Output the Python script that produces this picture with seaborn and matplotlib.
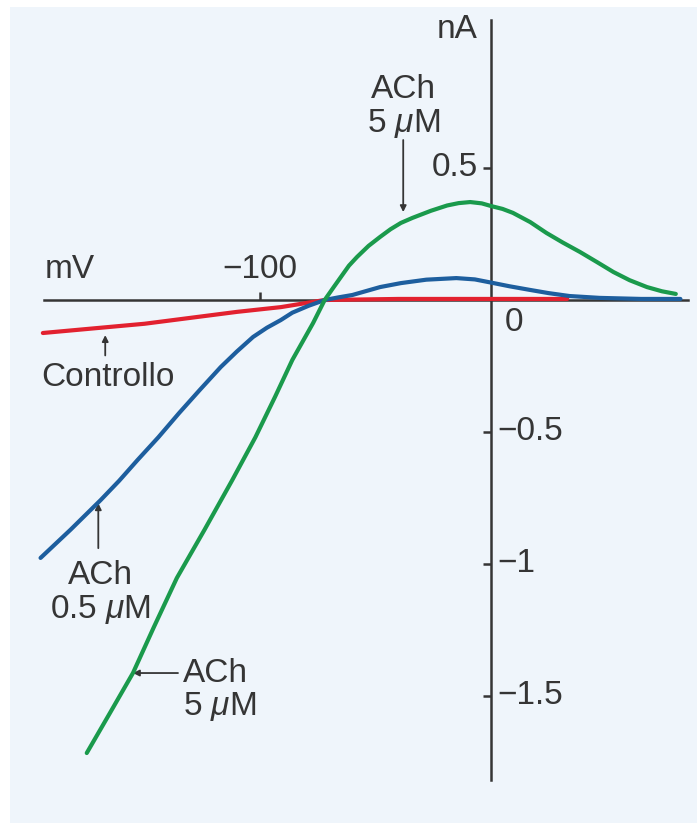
import matplotlib
matplotlib.use('Agg')
import matplotlib.pyplot as plt
from matplotlib.patches import Rectangle
import numpy as np
import seaborn as sns

sns.set_style("white")
plt.rcParams['font.family'] = ['Liberation Sans', 'DejaVu Sans']
plt.rcParams['mathtext.fontset'] = 'custom'
plt.rcParams['mathtext.it'] = 'Liberation Sans:italic'

# curve readings (mV, nA)
ctrl_mv = [-194, -150, -110, -91, -72, -40, 0, 33]
ctrl_na = [-0.125, -0.09, -0.045, -0.027, 0.0, 0.004, 0.004, 0.004]

ach05_mv = [-195, -182, -169, -161, -153, -144, -135, -126, -117, -110, -103, -97, -91, -86, -79, -72,
            -66, -60, -54, -48, -39, -28, -15, -7, 0, 8, 17, 25, 34, 47, 65, 82]
ach05_na = [-0.977, -0.87, -0.758, -0.685, -0.606, -0.52, -0.428, -0.34, -0.254, -0.195, -0.140, -0.105,
            -0.076, -0.048, -0.022, 0.0, 0.01, 0.019, 0.034, 0.049, 0.064, 0.077, 0.083, 0.078, 0.066,
            0.052, 0.038, 0.026, 0.015, 0.008, 0.004, 0.004]

ach5_mv = [-175, -165, -155, -146, -136, -124, -112, -102, -93.5, -86, -77, -72, -68, -65, -61.5, -58,
           -53, -48, -43.5, -39, -34, -26, -19, -14, -9, -4, 0, 5, 9.5, 17, 24, 31, 38.5, 46, 53, 60,
           67.5, 74, 80]
ach5_na = [-1.716, -1.565, -1.413, -1.24, -1.053, -0.87, -0.682, -0.52, -0.367, -0.227, -0.087, 0.0,
           0.05, 0.087, 0.13, 0.163, 0.205, 0.239, 0.268, 0.292, 0.311, 0.338, 0.358, 0.367, 0.371,
           0.366, 0.356, 0.345, 0.330, 0.295, 0.254, 0.218, 0.182, 0.143, 0.106, 0.075, 0.049, 0.033,
           0.023]

ytick_vals = [0.5, -0.5, -1, -1.5]
ytick_labels = ["0.5", "\u22120.5", "\u22121", "\u22121.5"]

bg = "#eff5fb"
ink = "#353535"

fig = plt.figure(figsize=(6.97, 8.23), dpi=100)
ax = fig.add_axes([0, 0, 1, 1])
ax.set_facecolor(bg)

sns.lineplot(x=ctrl_mv, y=ctrl_na, color="#e2212f", lw=3, sort=False, ax=ax, zorder=3)
sns.lineplot(x=ach05_mv, y=ach05_na, color="#1d5e9e", lw=3, sort=False, ax=ax, zorder=4)
sns.lineplot(x=ach5_mv, y=ach5_na, color="#1a9a4c", lw=3, sort=False, ax=ax, zorder=5)

# 231 px per 100 mV, 264 px per nA, origin at pixel (491, 300)
ax.set_xlim(-491 / 2.31, (697 - 491) / 2.31)
ax.set_ylim(-(823 - 300) / 264, 300 / 264)

for s in ["top", "right"]:
    ax.spines[s].set_visible(False)
ax.spines["left"].set_position(("data", 0))
ax.spines["bottom"].set_position(("data", 0))
ax.spines["left"].set_bounds(-1.82, 1.06)
ax.spines["bottom"].set_bounds(-193.5, 85.3)
for s in ["left", "bottom"]:
    ax.spines[s].set_color(ink)
    ax.spines[s].set_linewidth(1.8)
    ax.spines[s].set_zorder(2)

ax.set_yticks(ytick_vals)
ax.set_xticks([-100])
ax.tick_params(axis="y", left=True, direction="out", length=6, width=1.8, color=ink, labelleft=False)
ax.tick_params(axis="x", bottom=True, direction="in", length=6, width=1.8, color=ink, labelbottom=False)
ax.grid(False)

# white page margin at top and left
fig.add_artist(Rectangle((0, 1 - 7 / 823), 1, 7 / 823, transform=fig.transFigure, color="white", lw=0))
fig.add_artist(Rectangle((0, 0), 10 / 697, 1, transform=fig.transFigure, color="white", lw=0))

fs = 24
ax.text(-5.6, 1.023, "nA", ha="right", va="center", fontsize=fs, color=ink)
ax.text(-193, 0.114, "mV", ha="left", va="center", fontsize=fs, color=ink)
ax.text(-100, 0.114, "\u2212100", ha="center", va="center", fontsize=fs, color=ink)
ax.text(6, -0.087, "0", ha="left", va="center", fontsize=fs, color=ink)
for v, lab in zip(ytick_vals, ytick_labels):
    if v > 0:
        ax.text(-5.6, v, lab, ha="right", va="center", fontsize=fs, color=ink)
    else:
        ax.text(2.6, v, lab, ha="left", va="center", fontsize=fs, color=ink)

arr = dict(arrowstyle="-|>", lw=1.3, color=ink, mutation_scale=9, shrinkA=0, shrinkB=0)
ax.text(-166, -0.295, "Controllo", ha="center", va="center", fontsize=fs, color=ink)
ax.annotate("", xy=(-167, -0.133), xytext=(-167, -0.21), arrowprops=arr)

ax.text(-169, -1.11, "ACh\n0.5 $\\mu$M", ha="center", va="center", fontsize=fs, color=ink, linespacing=1.05)
ax.annotate("", xy=(-170, -0.77), xytext=(-170, -0.94), arrowprops=arr)

ax.text(-133.3, -1.48, "ACh\n5 $\\mu$M", ha="left", va="center", fontsize=fs, color=ink, linespacing=1.05)
ax.annotate("", xy=(-155, -1.413), xytext=(-135.5, -1.413), arrowprops=arr)

ax.text(-37.7, 0.731, "ACh\n5 $\\mu$M", ha="center", va="center", fontsize=fs, color=ink, linespacing=1.05)
ax.annotate("", xy=(-38, 0.333), xytext=(-38, 0.606), arrowprops=arr)

plt.savefig("out.png", dpi=100, facecolor="white")
